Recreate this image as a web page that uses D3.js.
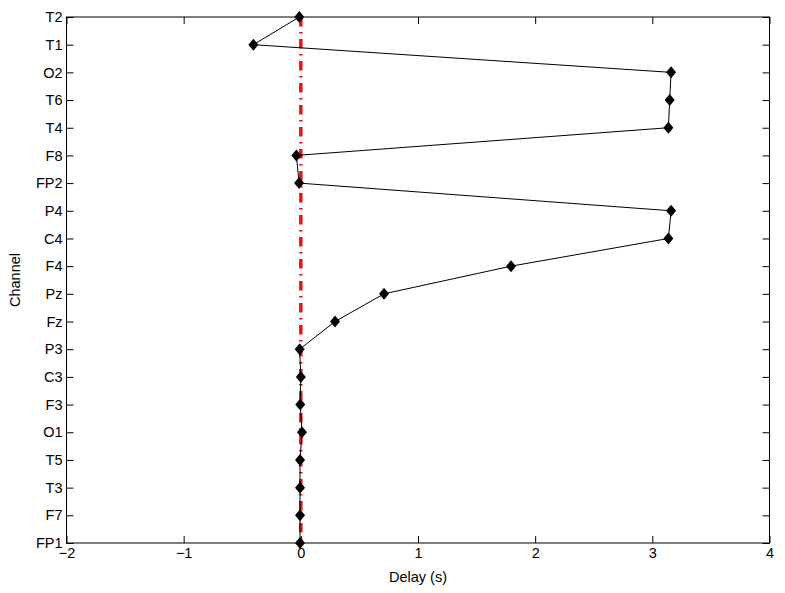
<!DOCTYPE html>
<html><head><meta charset="utf-8">
<script src="https://cdn.jsdelivr.net/npm/d3@7"></script>
<style>body{margin:0;background:#fff;} text{font-family:"Liberation Sans",Arial,sans-serif;}</style>
</head><body>
<svg id="c" width="785" height="593"></svg>
<script>
const channels = ["FP1","F7","T3","T5","O1","F3","C3","P3","Fz","Pz","F4","C4","P4","FP2","F8","T4","T6","O2","T1","T2"];
const delays = [-0.007,-0.007,-0.007,-0.007,0.01,-0.005,0.0,-0.01,0.292,0.71,1.794,3.137,3.16,-0.015,-0.038,3.137,3.148,3.16,-0.405,-0.013];
const xTicks = [-2,-1,0,1,2,3,4];
const refX = 0;

const svg = d3.select("#c");
const L=66.5, R=769.5, T=17, B=543;
const x = d3.scaleLinear().domain([-2,4]).range([L,R]);
const y = d3.scalePoint().domain(channels).range([B,T]);
const fs = 14.5;
const tick = 7;

// frame
svg.append("rect").attr("x",L).attr("y",T).attr("width",R-L).attr("height",B-T)
  .attr("fill","none").attr("stroke","#000").attr("stroke-width",1);

// bottom axis
const xb = svg.append("g").attr("transform",`translate(0,${B})`)
  .call(d3.axisBottom(x).tickValues(xTicks).tickSizeInner(-tick).tickSizeOuter(0).tickPadding(5)
    .tickFormat(d => d<0 ? "\u2212"+Math.abs(d) : d));
xb.select(".domain").remove();
xb.selectAll("text").attr("font-size",fs).attr("font-family","Liberation Sans, Arial, sans-serif").attr("fill","#000");
xb.selectAll("line").attr("stroke","#000");
// top axis ticks
const xt = svg.append("g").attr("transform",`translate(0,${T})`)
  .call(d3.axisTop(x).tickValues(xTicks).tickSizeInner(-tick).tickSizeOuter(0).tickFormat(""));
xt.select(".domain").remove();
xt.selectAll("line").attr("stroke","#000");

// left axis
const yl = svg.append("g").attr("transform",`translate(${L},0)`)
  .call(d3.axisLeft(y).tickSizeInner(-tick).tickSizeOuter(0).tickPadding(4));
yl.select(".domain").remove();
yl.selectAll("text").attr("font-size",fs).attr("font-family","Liberation Sans, Arial, sans-serif").attr("fill","#000");
yl.selectAll("line").attr("stroke","#000");
// right axis ticks
const yr = svg.append("g").attr("transform",`translate(${R},0)`)
  .call(d3.axisRight(y).tickSizeInner(-tick).tickSizeOuter(0).tickFormat(""));
yr.select(".domain").remove();
yr.selectAll("line").attr("stroke","#000");

// red reference line
svg.append("line").attr("x1",x(refX)).attr("x2",x(refX)).attr("y1",T).attr("y2",B)
  .attr("stroke","#e8141a").attr("stroke-width",3.5).attr("stroke-dasharray","9.5,5.5,1.5,5.5");

// data line
const line = d3.line().x((d,i)=>x(d)).y((d,i)=>y(channels[i]));
svg.append("path").datum(delays).attr("d",line).attr("fill","none").attr("stroke","#000").attr("stroke-width",1);

// diamonds
svg.selectAll("path.m").data(delays).enter().append("path").attr("class","m")
  .attr("d","M0,-6L5,0L0,6L-5,0Z")
  .attr("transform",(d,i)=>`translate(${x(d)},${y(channels[i])})`)
  .attr("fill","#000");

// axis labels
svg.append("text").attr("x",(L+R)/2).attr("y",582).attr("text-anchor","middle")
  .attr("font-size",fs).text("Delay (s)");
svg.append("text").attr("transform",`translate(20,${(T+B)/2}) rotate(-90)`).attr("text-anchor","middle")
  .attr("font-size",fs).text("Channel");
</script>
</body></html>
